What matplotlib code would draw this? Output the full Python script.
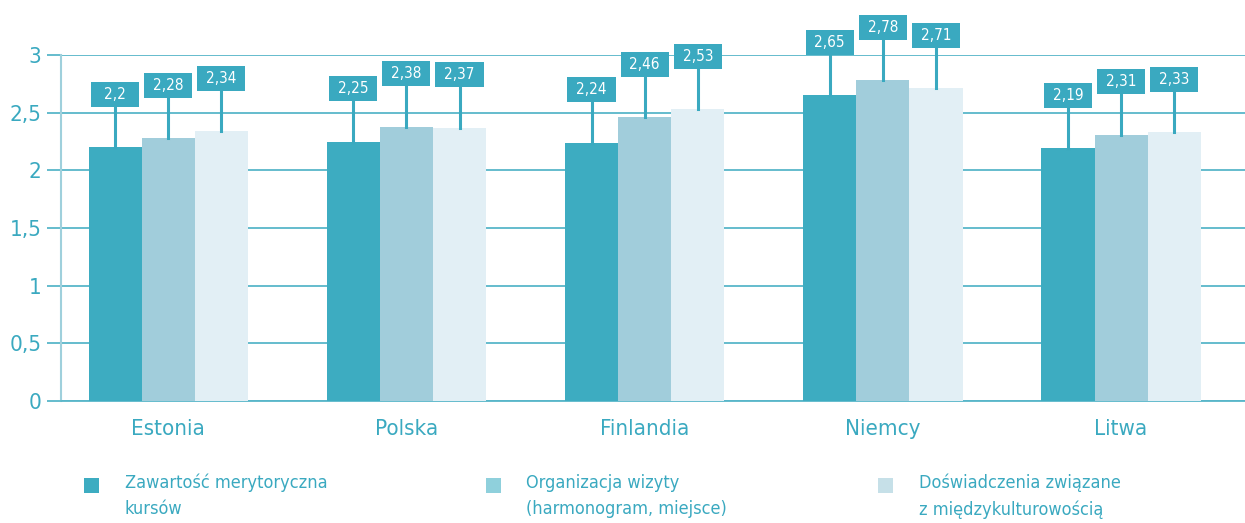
import matplotlib.pyplot as plt
from matplotlib.patches import Rectangle

countries = ['Estonia', 'Polska', 'Finlandia', 'Niemcy', 'Litwa']
zawartosc = [2.2, 2.25, 2.24, 2.65, 2.19]
organizacja = [2.28, 2.38, 2.46, 2.78, 2.31]
doswiadczenia = [2.34, 2.37, 2.53, 2.71, 2.33]
series_names = ['Zawartość merytoryczna\nkursów',
                'Organizacja wizyty\n(harmonogram, miejsce)',
                'Doświadczenia związane\nz międzykulturowością']
yticks = [0, 0.5, 1, 1.5, 2, 2.5, 3]

colors = ['#3dacc1', '#a1cddb', '#e2eff5']
legend_colors = ['#3dacc1', '#8fd0dc', '#c6e0e8']
teal = '#3aa9c0'
grid = '#58b6c9'
font = dict(family='DejaVu Sans', stretch='condensed')

fig = plt.figure(figsize=(12.45, 5.23), dpi=100)
ax = fig.add_axes([61 / 1245, 122 / 523, 1 - 61 / 1245, 346 / 523])

w = 0.223
box_w = 0.202
box_h = 0.217
gap = 0.35
for k, vals in enumerate([zawartosc, organizacja, doswiadczenia]):
    xs = [i + (k - 1) * w for i in range(len(countries))]
    ax.bar(xs, vals, width=w, color=colors[k], zorder=3)
    for x, v in zip(xs, vals):
        ax.plot([x, x], [v, v + gap], color=teal, lw=2.2, zorder=4, clip_on=False)
        ax.add_patch(Rectangle((x - box_w / 2, v + gap), box_w, box_h,
                               facecolor=teal, edgecolor='none', zorder=5, clip_on=False))
        ax.text(x, v + gap + box_h / 2, f'{v:g}'.replace('.', ','), color='white',
                fontsize=11, ha='center', va='center', zorder=6, **font)

ax.set_xlim(-0.45, 4.52)
ax.set_ylim(0, 3)
ax.set_yticks(yticks)
ax.set_yticklabels([f'{t:g}'.replace('.', ',') for t in yticks])
ax.set_xticks(range(len(countries)))
ax.set_xticklabels(countries)
ax.yaxis.grid(True, color=grid, lw=1.3, zorder=1)
ax.tick_params(axis='y', length=10, width=1.3, color=grid, labelcolor=teal, labelsize=16, pad=4)
ax.tick_params(axis='x', length=0, labelcolor=teal, labelsize=16, pad=13)
for lab in ax.get_xticklabels() + ax.get_yticklabels():
    lab.set_fontfamily('DejaVu Sans')
    lab.set_fontstretch('condensed')
for s in ['top', 'right']:
    ax.spines[s].set_visible(False)
ax.spines['left'].set_color('#9fd0dc')
ax.spines['left'].set_linewidth(1.5)
ax.spines['bottom'].set_color(grid)
ax.spines['bottom'].set_linewidth(1.3)

# legend
sq_x = [84, 486, 878]
txt_x = [125, 526, 919]
for k in range(3):
    fig.patches.append(Rectangle((sq_x[k] / 1245, 1 - 493 / 523), 15 / 1245, 15 / 523,
                                 transform=fig.transFigure, facecolor=legend_colors[k],
                                 edgecolor='none'))
    fig.text(txt_x[k] / 1245, 1 - 474 / 523, series_names[k], color=teal, fontsize=13,
             ha='left', va='top', linespacing=1.55, **font)

fig.savefig('out.png')
